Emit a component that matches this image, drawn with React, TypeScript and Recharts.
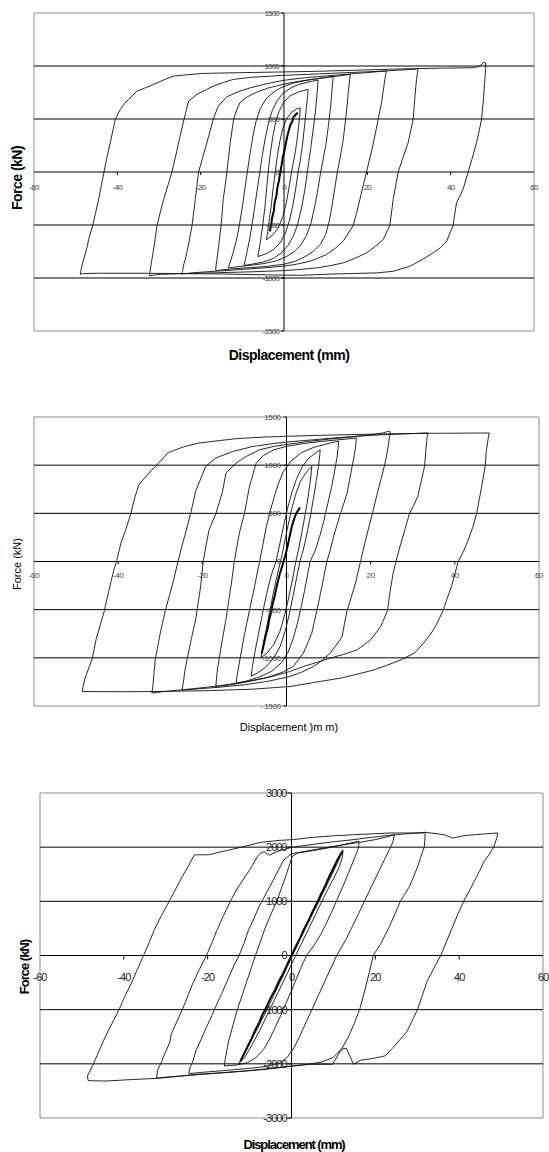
import React from 'react';
import { ComposedChart, Line, XAxis, YAxis, ReferenceLine, ReferenceArea } from 'recharts';

type Pt = [number, number];

// ---- shared x axis ----
const X_TICKS = [-60, -40, -20, 0, 20, 40, 60];
const X_LABELS = ['-60', '-40', '-20', '0', '20', '40', '60'];

// ---- chart 1 ----
const C1_Y_TICKS = [1500, 1000, 500, 0, -500, -1000, -1500];
const C1_Y_LABELS = ['1500', '1000', '500', '0', '-500', '-1000', '-1500'];
const C1_GRID = [1000, 500, -500, -1000];

const C1_L1: Pt[] = [
  [-48.9, -965], [-48.6, -900], [-48.1, -826], [-47.2, -700], [-46.9, -637], [-45.9, -502], [-45.2, -380], [-44.5, -260],
  [-43.2, 0], [-42.6, 120], [-41.7, 276], [-40.5, 496], [-39.3, 590], [-38.4, 640], [-37.3, 685], [-35.3, 763],
  [-33.5, 790], [-31.3, 826], [-28.8, 870], [-26.5, 905], [-22, 922], [-19.4, 930], [-10.6, 937], [0, 944],
  [8, 950], [15, 958], [22, 966], [30, 974], [38, 980], [45.7, 984], [47, 1000], [48.0, 1035], [48.4, 1030],
  [48.4, 968], [48.1, 820], [47.9, 700], [47.4, 496], [46.8, 380], [46.2, 276], [45.1, 120], [44.2, 0],
  [43.0, -160], [41.4, -291], [40.9, -420], [40.6, -505], [39.0, -653], [37.6, -712], [35.8, -763], [33, -830],
  [30.2, -890], [26.2, -937], [22.2, -952], [12, -962], [3.8, -975], [-5, -970], [-15, -962], [-25, -958],
  [-35, -955], [-45, -955], [-48.5, -960], [-48.9, -965],
];
const C1_L2: Pt[] = [
  [-32.3, -979], [-32.0, -900], [-31.7, -826], [-31.1, -680], [-30.5, -512], [-29.7, -380], [-28.9, -260], [-27.8, -120],
  [-26.9, 0], [-26.0, 150], [-25.3, 276], [-24.0, 496], [-23.4, 590], [-22.9, 669], [-20.9, 732], [-19, 770],
  [-17, 810], [-14.5, 845], [-12.2, 873], [-8, 893], [-3, 905], [0, 912], [6, 922], [12, 932], [18, 942],
  [24, 952], [28, 962], [31.5, 970], [32.2, 978],
  [32.0, 930], [31.8, 873], [31.4, 700], [31.0, 496], [29.8, 276], [28.5, 130], [27.4, 0], [26.8, -130],
  [26.2, -260], [25.4, -505], [23.8, -637], [22, -700], [19.8, -763], [17, -815], [14.2, -857], [11, -885],
  [7.8, -905], [3, -922], [0, -930], [-8, -942], [-16, -950], [-24, -958], [-30, -966], [-32.3, -979],
];
const C1_L3: Pt[] = [
  [-24.6, -963], [-24.3, -930], [-24.1, -880], [-23.7, -826], [-22.9, -680], [-22.1, -512], [-21.3, -260], [-20.9, -130],
  [-20.5, 0], [-19.5, 140], [-18.5, 276], [-17.0, 496], [-15.8, 621], [-13.7, 710], [-10.6, 763], [-8, 795],
  [-5, 825], [-2, 850], [0, 865], [4, 885], [8, 900], [12, 912], [16, 925], [20, 938], [23, 948], [24.6, 955],
  [24.4, 920], [24.2, 873], [23.8, 760], [23.4, 653], [22.6, 496], [21.9, 360], [21.1, 212], [19.8, 0],
  [19.0, -130], [18.2, -260], [17.4, -390], [16.6, -505], [14.2, -653], [12.3, -720], [10.2, -779], [8, -815],
  [6.2, -842], [3, -870], [0, -888], [-5, -905], [-10, -918], [-16, -935], [-21, -948], [-24.6, -963],
];
const C1_L4: Pt[] = [
  [-16.4, -930], [-16.3, -880], [-16.1, -826], [-15.7, -700], [-15.3, -574], [-14.9, -420], [-14.6, -260], [-14.1, -120],
  [-13.7, 0], [-13.3, 140], [-12.9, 276], [-12.1, 496], [-11.3, 590], [-10.6, 653], [-9, 705], [-7, 745],
  [-4, 790], [-1, 820], [2, 845], [6, 870], [10, 890], [13, 905], [15.9, 922],
  [15.8, 880], [15.5, 780], [15.2, 650], [14.8, 500], [14.2, 300], [13.5, 140], [12.8, 0], [12.2, -150],
  [11.6, -300], [10.9, -460], [10.0, -590], [8.8, -680], [7, -750], [5, -800], [2.5, -845], [0, -870],
  [-4, -890], [-8, -902], [-12, -912], [-16.4, -930],
];
const C1_L5: Pt[] = [
  [-13.4, -905], [-13.0, -860], [-12.2, -760], [-11.4, -640], [-10.7, -500], [-10.0, -330], [-9.4, -160], [-8.8, 0],
  [-8.2, 160], [-7.5, 330], [-6.7, 480], [-5.8, 590], [-4.5, 680], [-3, 740], [-1, 790], [1.5, 830], [4, 855],
  [7, 875], [9.5, 890], [11.8, 903],
  [11.7, 860], [11.5, 760], [11.2, 620], [10.7, 450], [10.1, 270], [9.4, 120], [8.8, 0], [8.2, -150],
  [7.4, -320], [6.5, -480], [5.4, -600], [4, -690], [2.5, -750], [0.5, -800], [-2, -840], [-5, -865],
  [-8, -880], [-11, -893], [-13.4, -905],
];
const C1_L6: Pt[] = [
  [-9.6, -882], [-9.3, -830], [-8.8, -740], [-8.2, -620], [-7.6, -480], [-7.0, -320], [-6.4, -160], [-5.8, 0],
  [-5.2, 160], [-4.5, 320], [-3.7, 470], [-2.8, 580], [-1.7, 670], [-0.3, 740], [1.5, 790], [3.5, 825],
  [6, 850], [8.2, 868],
  [8.1, 820], [7.9, 720], [7.5, 560], [7.0, 400], [6.4, 220], [5.6, 0], [5.0, -170], [4.2, -340],
  [3.3, -490], [2.3, -600], [1, -690], [-0.5, -760], [-2.5, -815], [-5, -850], [-7.5, -868], [-9.6, -882],
];
const C1_L7: Pt[] = [
  [-6.3, -798], [-6.0, -740], [-5.6, -640], [-5.1, -500], [-4.6, -340], [-4.2, -170], [-3.8, 0], [-3.3, 170],
  [-2.7, 330], [-2.0, 470], [-1.1, 580], [0, 660], [1.5, 720], [3.5, 755], [5.8, 780],
  [5.7, 730], [5.4, 620], [5.0, 460], [4.5, 280], [4.0, 130], [3.4, 0], [2.8, -160], [2.1, -320],
  [1.3, -460], [0.3, -580], [-1, -670], [-2.6, -735], [-4.5, -775], [-6.3, -798],
];
const C1_L8: Pt[] = [
  [-4.2, -640], [-3.9, -560], [-3.5, -440], [-3.0, -300], [-2.6, -150], [-2.1, 0], [-1.6, 150], [-1.0, 290],
  [-0.3, 410], [0.6, 500], [1.7, 560], [3.0, 595], [3.9, 605],
  [3.8, 540], [3.5, 430], [3.1, 290], [2.5, 140], [1.8, 0], [1.2, -150], [0.5, -300], [-0.3, -420],
  [-1.3, -520], [-2.6, -590], [-4.2, -640],
];
const C1_BOLD: Pt[] = [
  [-3.4, -560], [-3.0, -480], [-2.9, -440], [-2.4, -360], [-2.3, -300], [-1.8, -220], [-1.6, -150], [-1.2, -80],
  [-0.9, 0], [-0.6, 60], [-0.3, 140], [0.1, 200], [0.4, 260], [0.8, 340], [1.2, 400], [1.5, 440], [2.0, 480],
  [2.3, 520], [2.8, 540], [3.3, 560],
];

// ---- chart 2 ----
const C2_Y_TICKS = [1500, 1000, 500, 0, -500, -1000, -1500];
const C2_Y_LABELS = ['1500', '1000', '500', '0', '-500', '-1000', '- 1500'];
const C2_GRID = [1000, 500, -500, -1000];

const C2_L1: Pt[] = [
  [-48.5, -1350], [-48.4, -1310], [-47.8, -1200], [-46.2, -1015], [-45.2, -800], [-43.3, -515], [-42.2, -300],
  [-41.1, -100], [-40.4, 0], [-39.3, 200], [-38.2, 330], [-37, 495], [-36.2, 640], [-35.1, 795], [-33.5, 880],
  [-31, 995], [-28.1, 1130], [-24.5, 1190], [-20.8, 1230], [-16, 1255], [-12, 1275], [-6, 1290], [0, 1300],
  [8, 1310], [16, 1318], [24, 1325], [32, 1330], [40, 1332], [48.2, 1334],
  [48.0, 1300], [47.5, 1150], [47.2, 987], [46.3, 760], [45.2, 502], [44.3, 360], [43.2, 225], [42, 100],
  [40.8, 0], [40, -130], [39.2, -260], [38.2, -380], [37.2, -509], [35.8, -640], [34.4, -744], [32.5, -850],
  [30.4, -951], [27.2, -1021], [24, -1075], [20.8, -1125], [16.8, -1170], [12.8, -1211], [8, -1245],
  [5.6, -1263], [0.8, -1298], [-8, -1325], [-18, -1340], [-28, -1348], [-38, -1352], [-48.5, -1350],
];
const C2_L2: Pt[] = [
  [-32, -1365], [-31.8, -1310], [-31.2, -1021], [-30.6, -880], [-30, -744], [-28.8, -509], [-27.8, -350],
  [-26.8, -190], [-25.8, 0], [-24.9, 150], [-24, 295], [-22.8, 495], [-22.2, 610], [-21.6, 727], [-20.8, 814],
  [-20, 900], [-19.2, 987], [-16.8, 1074], [-12.8, 1142], [-8, 1194], [-3, 1225], [0, 1240], [6, 1262],
  [12, 1285], [18, 1305], [24, 1318], [30, 1328], [33.6, 1335],
  [33.4, 1290], [33.1, 1150], [32.8, 987], [32, 830], [31.2, 675], [30.2, 580], [29.2, 495], [28.2, 340],
  [27.2, 191], [26, 0], [25.3, -130], [24.8, -260], [24.4, -380], [24, -509], [22.4, -675], [20, -813],
  [16.8, -917], [13.5, -965], [10.4, -1003], [7, -1050], [4, -1090], [0.8, -1142], [-4, -1200], [-10, -1250],
  [-16, -1290], [-22, -1320], [-28, -1345], [-32, -1365],
];
const C2_L3: Pt[] = [
  [-24.8, -1335], [-24.5, -1250], [-24.1, -1120], [-23.6, -1007], [-22.6, -800], [-21.6, -605], [-21, -430],
  [-20.4, -260], [-19.8, 0], [-19.1, 170], [-18.4, 329], [-16.8, 495], [-16, 610], [-15.2, 727], [-14.4, 918],
  [-12, 1022], [-9.6, 1090], [-6.4, 1160], [-3, 1195], [0, 1215], [5, 1245], [10, 1270], [15, 1290],
  [20, 1315], [23, 1335], [24.2, 1352], [24.6, 1350],
  [24.5, 1300], [24.1, 1180], [23.6, 1056], [22.8, 910], [22, 779], [21.2, 640], [20.4, 495], [19.6, 360],
  [18.8, 225], [17.6, 0], [17, -110], [16.4, -224], [15.4, -370], [14.4, -509], [13.8, -640], [13.2, -779],
  [11.8, -870], [10.4, -951], [8.4, -1030], [6.4, -1090], [3.5, -1150], [0.8, -1194], [-4, -1240],
  [-10, -1280], [-16, -1305], [-21, -1322], [-24.8, -1335],
];
const C2_L4: Pt[] = [
  [-16.8, -1300], [-16.5, -1150], [-16, -1007], [-15.2, -800], [-14.4, -605], [-13.8, -430], [-13.2, -260],
  [-12.4, 0], [-11.8, 150], [-11.2, 295], [-10, 495], [-9.4, 640], [-8.8, 779], [-7.2, 1022], [-5.5, 1100],
  [-3, 1160], [0, 1195], [4, 1225], [8, 1245], [12, 1262], [16.6, 1281],
  [16.5, 1220], [16.1, 1100], [15.6, 987], [15, 850], [14.4, 710], [13.6, 600], [12.8, 495], [12, 380],
  [11.2, 260], [10.4, 120], [9.6, 0], [9, -130], [8.4, -260], [7.8, -390], [7.2, -509], [6.6, -630],
  [6, -744], [5, -850], [4, -951], [2.6, -1030], [1.6, -1090], [-1, -1150], [-5, -1210], [-10, -1255],
  [-14, -1285], [-16.8, -1300],
];
const C2_L5: Pt[] = [
  [-12, -1265], [-11.6, -1150], [-10.8, -951], [-10, -760], [-8.8, -509], [-7.6, -260], [-6.4, 0], [-5.6, 180],
  [-4.8, 360], [-3.9, 520], [-3, 660], [-2, 800], [-0.8, 930], [1, 1040], [3.5, 1130], [6.5, 1185],
  [9.5, 1220], [12.4, 1250],
  [12.3, 1190], [12, 1080], [11.4, 930], [10.7, 770], [9.8, 600], [8.9, 430], [7.9, 260], [6.8, 110],
  [5.6, 0], [5, -140], [4.3, -300], [3.5, -470], [2.6, -640], [1.6, -800], [0.4, -940], [-1.2, -1050],
  [-3.5, -1140], [-6.5, -1200], [-9.5, -1240], [-12, -1265],
];
const C2_L6: Pt[] = [
  [-8.4, -1190], [-8.1, -1090], [-7.5, -940], [-6.7, -760], [-5.8, -560], [-4.7, -330], [-3.6, -140],
  [-2.5, 0], [-1.6, 180], [-0.7, 370], [0.3, 560], [1.3, 720], [2.4, 860], [3.7, 980], [5.2, 1070],
  [6.7, 1120], [8, 1160],
  [7.9, 1100], [7.6, 990], [7.1, 840], [6.5, 680], [5.8, 500], [5, 320], [4.2, 160], [3.2, 0],
  [2.4, -170], [1.6, -350], [0.7, -540], [-0.3, -720], [-1.5, -880], [-3, -1000], [-5, -1100], [-7, -1160],
  [-8.4, -1190],
];
const C2_L7: Pt[] = [
  [-6.1, -1000], [-5.6, -880], [-4.8, -700], [-3.9, -500], [-3, -300], [-2.1, -120], [-1.4, 0], [-0.6, 170],
  [0.3, 360], [1.2, 540], [2.2, 700], [3.3, 830], [4.6, 920], [6, 987],
  [5.9, 930], [5.6, 820], [5.1, 660], [4.4, 480], [3.6, 290], [2.8, 110], [2.2, 0], [1.5, -170], [0.6, -360],
  [-0.4, -550], [-1.6, -730], [-3, -860], [-4.6, -950], [-6.1, -1000],
];
const C2_BOLD: Pt[] = [
  [-5.9, -960], [-5.6, -900], [-5.2, -820], [-4.9, -760], [-4.4, -680], [-4.1, -600], [-3.6, -520],
  [-3.3, -440], [-2.8, -360], [-2.5, -290], [-2.0, -200], [-1.6, -130], [-1.1, -60], [-0.7, 0], [-0.3, 60],
  [0.1, 130], [0.5, 210], [0.9, 290], [1.3, 370], [1.8, 440], [2.3, 500], [3.2, 560],
];

// ---- chart 3 ----
const C3_Y_TICKS = [3000, 2000, 1000, 0, -1000, -2000, -3000];
const C3_Y_LABELS = ['3000', '2000', '1000', '0', '-1000', '-2000', '-3000'];
const C3_GRID = [2000, 1000, -1000, -2000];

const C3_L1: Pt[] = [
  [-48.5, -2310], [-48.7, -2225], [-48.2, -2150], [-47.5, -2040], [-46, -1780], [-44.5, -1514], [-42.8, -1250],
  [-41.2, -1007], [-39.8, -760], [-38.3, -525], [-36.8, -260], [-35.3, 0], [-34, 230], [-32.8, 464],
  [-31, 740], [-29.1, 1014], [-27.6, 1230], [-26.1, 1452], [-24.6, 1650], [-23.2, 1854], [-22.6, 1859],
  [-19.8, 1859], [-17, 1910], [-14.6, 1952], [-10.6, 2026], [-7.4, 2088], [-3, 2125], [0.5, 2140], [5, 2180],
  [10, 2210], [14.9, 2230], [19, 2245], [23.7, 2262], [31.3, 2262], [32, 2273], [34, 2255], [36.4, 2230],
  [38.4, 2169], [41.2, 2212], [44, 2232], [46.8, 2249], [49.2, 2262],
  [49, 2180], [48.3, 2013], [47.2, 1870], [46, 1741], [44.8, 1550], [43.6, 1369], [42.4, 1190], [41.2, 1022],
  [39.8, 780], [38.4, 526], [37, 260], [35.6, 0], [34, -230], [32.4, -465], [31.2, -740], [30, -1009],
  [28.8, -1200], [27.6, -1394], [25.6, -1580], [24, -1720], [22.3, -1854], [19.5, -1900], [16.5, -1934],
  [14.8, -2008], [13.1, -1712], [11.9, -1730], [9.8, -2008], [3.9, -2010], [0, -2040], [-5, -2085],
  [-11.1, -2132], [-17, -2165], [-22.8, -2194], [-27, -2230], [-32, -2268], [-38, -2290], [-44.5, -2318],
  [-48.5, -2310],
];
const C3_L2: Pt[] = [
  [-32.2, -2262], [-32, -2132], [-31, -1960], [-30.3, -1823], [-29, -1600], [-28.7, -1452], [-27.4, -1230],
  [-26.1, -1007], [-24.8, -760], [-23.6, -525], [-22, -260], [-20.3, 0], [-19, 230], [-17.8, 464],
  [-16.2, 740], [-14.5, 1014], [-13, 1230], [-11.1, 1452], [-9.8, 1600], [-8.2, 1820], [-7.4, 1890],
  [-6.5, 1916], [-5.8, 1870], [-5.3, 1854], [-3, 1930], [0, 1996], [5, 2050], [10, 2100], [14, 2132],
  [19, 2180], [24, 2225], [28, 2250], [31.9, 2274],
  [31.7, 2013], [30.9, 1830], [30.1, 1641], [29.1, 1450], [28.1, 1270], [27.1, 1140], [26.1, 1022],
  [24.7, 770], [23.3, 526], [21.3, 220], [19.5, 0], [18.6, -300], [17.5, -640], [16.4, -960], [15, -1250],
  [13.6, -1500], [12, -1720], [10, -1880], [7.5, -1960], [4, -2010], [0, -2045], [-6, -2100], [-12, -2140],
  [-18, -2175], [-24, -2210], [-28, -2235], [-32.2, -2262],
];
const C3_L3: Pt[] = [
  [-24.5, -2180], [-24.3, -2080], [-23.5, -1950], [-22.8, -1756], [-21.5, -1540], [-20.3, -1325], [-19, -1110],
  [-17.8, -893], [-16.5, -680], [-15.3, -462], [-13.9, -210], [-12.5, 0], [-11.3, 230], [-10.3, 462],
  [-9, 680], [-7.8, 893], [-6.1, 1140], [-4.4, 1386], [-3.1, 1580], [-1.9, 1756], [0, 1879], [3, 1920],
  [7, 1975], [12, 2040], [16, 2085], [20, 2140], [23, 2195], [24.5, 2230],
  [24.3, 2120], [23.4, 1960], [22.3, 1790], [21, 1580], [19.8, 1390], [18.5, 1180], [17.2, 970], [16, 770],
  [14.6, 550], [13.3, 340], [12, 160], [10.8, 0], [9.6, -200], [8.4, -400], [7.1, -620], [5.8, -840],
  [4.5, -1060], [3.2, -1280], [1.9, -1500], [0.6, -1700], [-1, -1880], [-3, -1990], [-6, -2050],
  [-11, -2090], [-17, -2130], [-21, -2155], [-24.5, -2180],
];
const C3_L4: Pt[] = [
  [-16, -2040], [-15.8, -1900], [-15, -1580], [-14, -1300], [-13, -1022], [-11.8, -740], [-10.6, -465],
  [-9.6, -230], [-8.6, 0], [-7.4, 260], [-6.2, 526], [-4.8, 780], [-3.4, 1022], [-2.4, 1240], [-1.4, 1455],
  [-0.6, 1650], [0.2, 1827], [1.4, 1890], [5, 1935], [8.5, 1983], [12, 2040], [15.7, 2106], [16.1, 2106],
  [16, 1990], [15.2, 1830], [14.2, 1640], [13.1, 1430], [12, 1230], [10.8, 1020], [9.6, 810], [8.3, 590],
  [6.9, 380], [5.3, 180], [3.6, 0], [2.4, -200], [1.2, -420], [0, -650], [-1.3, -880], [-2.6, -1110],
  [-3.9, -1330], [-5.2, -1540], [-6.7, -1740], [-8.5, -1890], [-10.5, -1980], [-13, -2020], [-16, -2040],
];
const C3_L5: Pt[] = [
  [-12.6, -2000], [-11.5, -1850], [-10, -1620], [-8, -1330], [-6, -1020], [-4, -700], [-2, -370], [0, -40],
  [2, 290], [4, 610], [6, 920], [8, 1230], [9.8, 1520], [11.2, 1750], [12.3, 1950],
  [12.1, 1800], [11.3, 1620], [10, 1420], [8.4, 1180], [6.5, 880], [4.5, 560], [2.5, 240], [0.5, -80],
  [-1.5, -410], [-3.5, -730], [-5.5, -1050], [-7.5, -1370], [-9.5, -1660], [-11.2, -1890], [-12.6, -2000],
];
const C3_BOLD: Pt[] = [
  [-12.2, -1952], [-11.3, -1815], [-10.6, -1700], [-9.5, -1530], [-8.8, -1400], [-7.7, -1235], [-7.0, -1100],
  [-5.9, -940], [-5.1, -800], [-3.9, -630], [-3.1, -490], [-1.9, -320], [-1.1, -180], [0, 0], [0.9, 150],
  [2.1, 330], [2.9, 470], [4.1, 650], [4.9, 790], [6.1, 970], [6.9, 1110], [8.1, 1300], [8.9, 1440],
  [10.1, 1630], [10.9, 1760], [12.1, 1920],
];

const FONT = "'Liberation Sans', Arial, sans-serif";
const toObjs = (a: Pt[]) => a.map(([x, y]) => ({ x, y }));

interface Title {
  text: string;
  cx: number;
  cy: number;
  size: number;
  weight: number;
  spacing: number;
}

interface Cfg {
  top: number;
  w: number;
  h: number;
  m: { top: number; right: number; bottom: number; left: number };
  yMax: number;
  yTicks: number[];
  yLabels: string[];
  grid: number[];
  loops: Pt[][];
  bold: Pt[];
  tickSize: number;
  tickColor: string;
  tickSpacing: number;
  xLabelDy: number;
  yLabelGap: number;
  tickLen: number;
  yTitle: Title;
  xTitle: Title;
}

// margins leave 1px for the (invisible) axis strips, so plot boxes land where the picture has them
const CHARTS: Cfg[] = [
  {
    top: 0, w: 549, h: 380, m: { top: 13, right: 15, bottom: 48, left: 33 },
    yMax: 1500, yTicks: C1_Y_TICKS, yLabels: C1_Y_LABELS, grid: C1_GRID,
    loops: [C1_L1, C1_L2, C1_L3, C1_L4, C1_L5, C1_L6, C1_L7, C1_L8], bold: C1_BOLD,
    tickSize: 8, tickColor: '#444', tickSpacing: -0.8, xLabelDy: 18, yLabelGap: 5, tickLen: 3,
    yTitle: { text: 'Force (kN)', cx: 17, cy: 178, size: 14, weight: 700, spacing: -0.5 },
    xTitle: { text: 'Displacement (mm)', cx: 289, cy: 355, size: 14, weight: 700, spacing: -0.5 },
  },
  {
    top: 380, w: 549, h: 360, m: { top: 37, right: 10, bottom: 33, left: 33 },
    yMax: 1500, yTicks: C2_Y_TICKS, yLabels: C2_Y_LABELS, grid: C2_GRID,
    loops: [C2_L1, C2_L2, C2_L3, C2_L4, C2_L5, C2_L6, C2_L7], bold: C2_BOLD,
    tickSize: 8, tickColor: '#444', tickSpacing: -0.4, xLabelDy: 16.5, yLabelGap: 6, tickLen: 3,
    yTitle: { text: 'Force (kN)', cx: 17, cy: 184, size: 11, weight: 400, spacing: 0 },
    xTitle: { text: 'Displacement )m m)', cx: 289, cy: 347, size: 11, weight: 400, spacing: 0 },
  },
  {
    top: 740, w: 549, h: 412, m: { top: 53, right: 6, bottom: 33, left: 39 },
    yMax: 3000, yTicks: C3_Y_TICKS, yLabels: C3_Y_LABELS, grid: C3_GRID,
    loops: [C3_L1, C3_L2, C3_L3, C3_L4, C3_L5], bold: C3_BOLD,
    tickSize: 11, tickColor: '#222', tickSpacing: -1, xLabelDy: 25.5, yLabelGap: 5, tickLen: 4,
    yTitle: { text: 'Force (kN)', cx: 24, cy: 227, size: 13, weight: 700, spacing: -1 },
    xTitle: { text: 'Displacement (mm)', cx: 294, cy: 404, size: 13, weight: 700, spacing: -1.1 },
  },
];

function Hysteresis({ cfg }: { cfg: Cfg }) {
  const { w, h, m } = cfg;
  const plotW = w - m.left - m.right - 1;
  const plotH = h - m.top - m.bottom - 1;
  const zeroX = m.left + 1 + plotW / 2;
  const zeroY = m.top + plotH / 2;

  const xTick = (p: any) => {
    const v = p.payload.value;
    const i = X_TICKS.indexOf(v);
    return (
      <g>
        {v !== 0 && Math.abs(v) !== 60 && (
          <line x1={p.x} x2={p.x} y1={zeroY} y2={zeroY + cfg.tickLen} stroke="#000" strokeWidth={1} />
        )}
        <text
          x={p.x}
          y={zeroY + cfg.xLabelDy}
          textAnchor="middle"
          fontSize={cfg.tickSize}
          fill={cfg.tickColor}
          fontFamily={FONT}
          letterSpacing={cfg.tickSpacing}
        >
          {X_LABELS[i]}
        </text>
      </g>
    );
  };

  const yTick = (p: any) => {
    const v = p.payload.value;
    const i = cfg.yTicks.indexOf(v);
    return (
      <g>
        <line x1={zeroX - cfg.tickLen} x2={zeroX} y1={p.y} y2={p.y} stroke="#000" strokeWidth={1} />
        <text
          x={zeroX - cfg.yLabelGap}
          y={p.y + cfg.tickSize * 0.36}
          textAnchor="end"
          fontSize={cfg.tickSize}
          fill={cfg.tickColor}
          fontFamily={FONT}
          letterSpacing={cfg.tickSpacing}
        >
          {cfg.yLabels[i]}
        </text>
      </g>
    );
  };

  const titleBase: React.CSSProperties = {
    position: 'absolute',
    whiteSpace: 'nowrap',
    fontFamily: FONT,
    color: '#000',
    lineHeight: 1,
  };

  return (
    <div style={{ position: 'absolute', left: 0, top: cfg.top, width: w, height: h }}>
      <ComposedChart width={w} height={h} margin={m}>
        <XAxis
          type="number"
          dataKey="x"
          domain={[-60, 60]}
          ticks={X_TICKS}
          interval={0}
          allowDataOverflow
          axisLine={false}
          tickLine={false}
          height={1}
          tick={xTick}
        />
        <YAxis
          type="number"
          dataKey="y"
          domain={[-cfg.yMax, cfg.yMax]}
          ticks={cfg.yTicks}
          interval={0}
          allowDataOverflow
          axisLine={false}
          tickLine={false}
          width={1}
          tick={yTick}
        />
        <ReferenceArea
          x1={-60}
          x2={60}
          y1={-cfg.yMax}
          y2={cfg.yMax}
          fill="none"
          fillOpacity={0}
          stroke="#8c8c8c"
          strokeWidth={1}
          ifOverflow="visible"
        />
        {cfg.grid.map((g) => (
          <ReferenceLine key={`g${g}`} y={g} stroke="#000" strokeWidth={1} />
        ))}
        <ReferenceLine y={0} stroke="#000" strokeWidth={1} />
        <ReferenceLine x={0} stroke="#000" strokeWidth={1} />
        {cfg.loops.map((loop, i) => (
          <Line
            key={`loop${i}`}
            data={toObjs(loop)}
            dataKey="y"
            type="linear"
            dot={false}
            activeDot={false}
            stroke="#111"
            strokeWidth={0.9}
            isAnimationActive={false}
          />
        ))}
        <Line
          data={toObjs(cfg.bold)}
          dataKey="y"
          type="linear"
          dot={false}
          activeDot={false}
          stroke="#000"
          strokeWidth={2}
          isAnimationActive={false}
        />
      </ComposedChart>
      <div
        style={{
          ...titleBase,
          left: cfg.yTitle.cx,
          top: cfg.yTitle.cy,
          fontSize: cfg.yTitle.size,
          fontWeight: cfg.yTitle.weight,
          letterSpacing: cfg.yTitle.spacing,
          transform: 'translate(-50%, -50%) rotate(-90deg)',
        }}
      >
        {cfg.yTitle.text}
      </div>
      <div
        style={{
          ...titleBase,
          left: cfg.xTitle.cx,
          top: cfg.xTitle.cy,
          fontSize: cfg.xTitle.size,
          fontWeight: cfg.xTitle.weight,
          letterSpacing: cfg.xTitle.spacing,
          transform: 'translate(-50%, -50%)',
        }}
      >
        {cfg.xTitle.text}
      </div>
    </div>
  );
}

export default function App() {
  return (
    <div style={{ position: 'absolute', left: 0, top: 0, width: 549, height: 1152, background: '#fff', overflow: 'hidden' }}>
      {CHARTS.map((c, i) => (
        <Hysteresis key={i} cfg={c} />
      ))}
    </div>
  );
}
